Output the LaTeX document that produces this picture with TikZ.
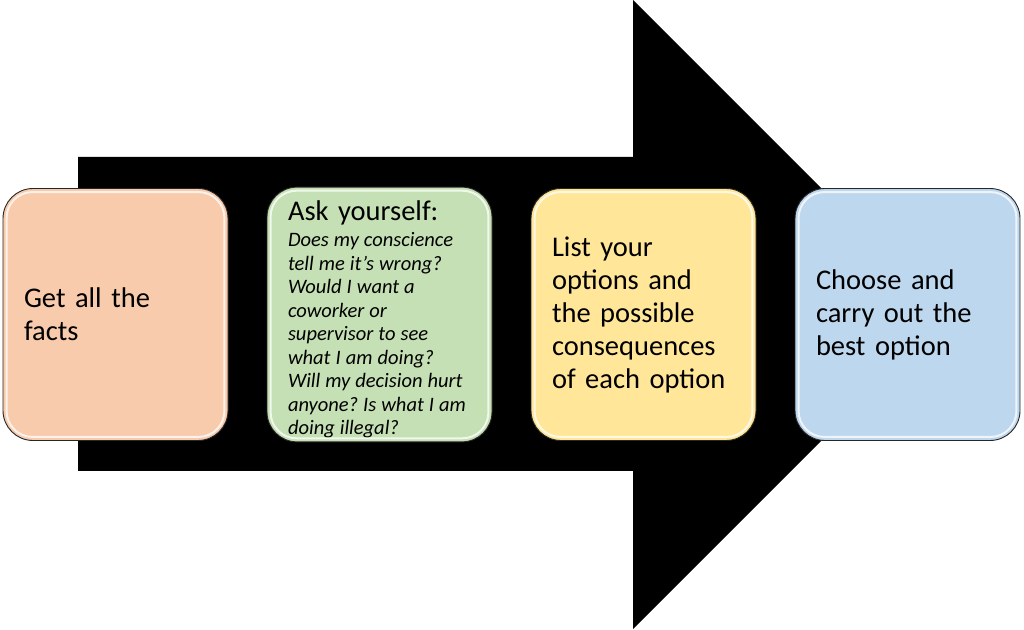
\documentclass[tikz,border=0pt]{standalone}
\usepackage{fontspec}
\setmainfont{Carlito}
\usetikzlibrary{positioning}
\definecolor{peach}{HTML}{F8CBAD}
\definecolor{sage}{HTML}{C5E0B4}
\definecolor{butter}{HTML}{FFE699}
\definecolor{sky}{HTML}{BDD7EE}
\newcommand{\bigtxt}{\fontsize{28.5}{33}\selectfont\frenchspacing}
\newcommand{\smalltxt}{\fontsize{20.5}{23.5}\selectfont\itshape\frenchspacing
   \spaceskip=5pt plus 0.5pt minus 0.5pt\relax}
\begin{document}
\begin{tikzpicture}[x=1pt, y=1pt, node distance=264pt]
   \tikzstyle{stepbox} = [rectangle, draw=black!85, line width=0.9pt, rounded corners=30pt,
                          minimum width=225pt, minimum height=252pt, inner xsep=21pt,
                          text width=183pt, align=left, font=\bigtxt];
   \tikzstyle{shine} = [draw=white, line width=2pt, opacity=0.75, rounded corners=26pt];
   \useasboundingbox (0,0) rectangle (1024,629);
   % big arrow behind the steps
   \fill[black] (78,158) -- (78,472) -- (633,472) -- (633,629) -- (947.5,314.5)
                -- (633,0) -- (633,158) -- cycle;
   \node[stepbox, fill=peach]  (a) at (115.5,314.5) {Get all the\\facts};
   \node[stepbox, fill=sage]   (b) [right of = a] {\rule{0pt}{30pt}Ask yourself:\\[3pt]
      \smalltxt Does my conscience\\tell me it's wrong?\\Would I want a\\coworker or\\supervisor to see\\what I am doing?\\Will my decision hurt\\anyone? Is what I am\\doing illegal?\par};
   \node[stepbox, fill=butter] (c) [right of = b] {List your\\options and\\the possible\\consequences\\of each option};
   \node[stepbox, fill=sky]    (d) [right of = c] {Choose and\\carry out the\\best option};
   \foreach \n in {a,b,c,d}
     \draw[shine] ([shift={(4pt,-4pt)}]\n.north west) rectangle ([shift={(-4pt,4pt)}]\n.south east);
\end{tikzpicture}
\end{document}
